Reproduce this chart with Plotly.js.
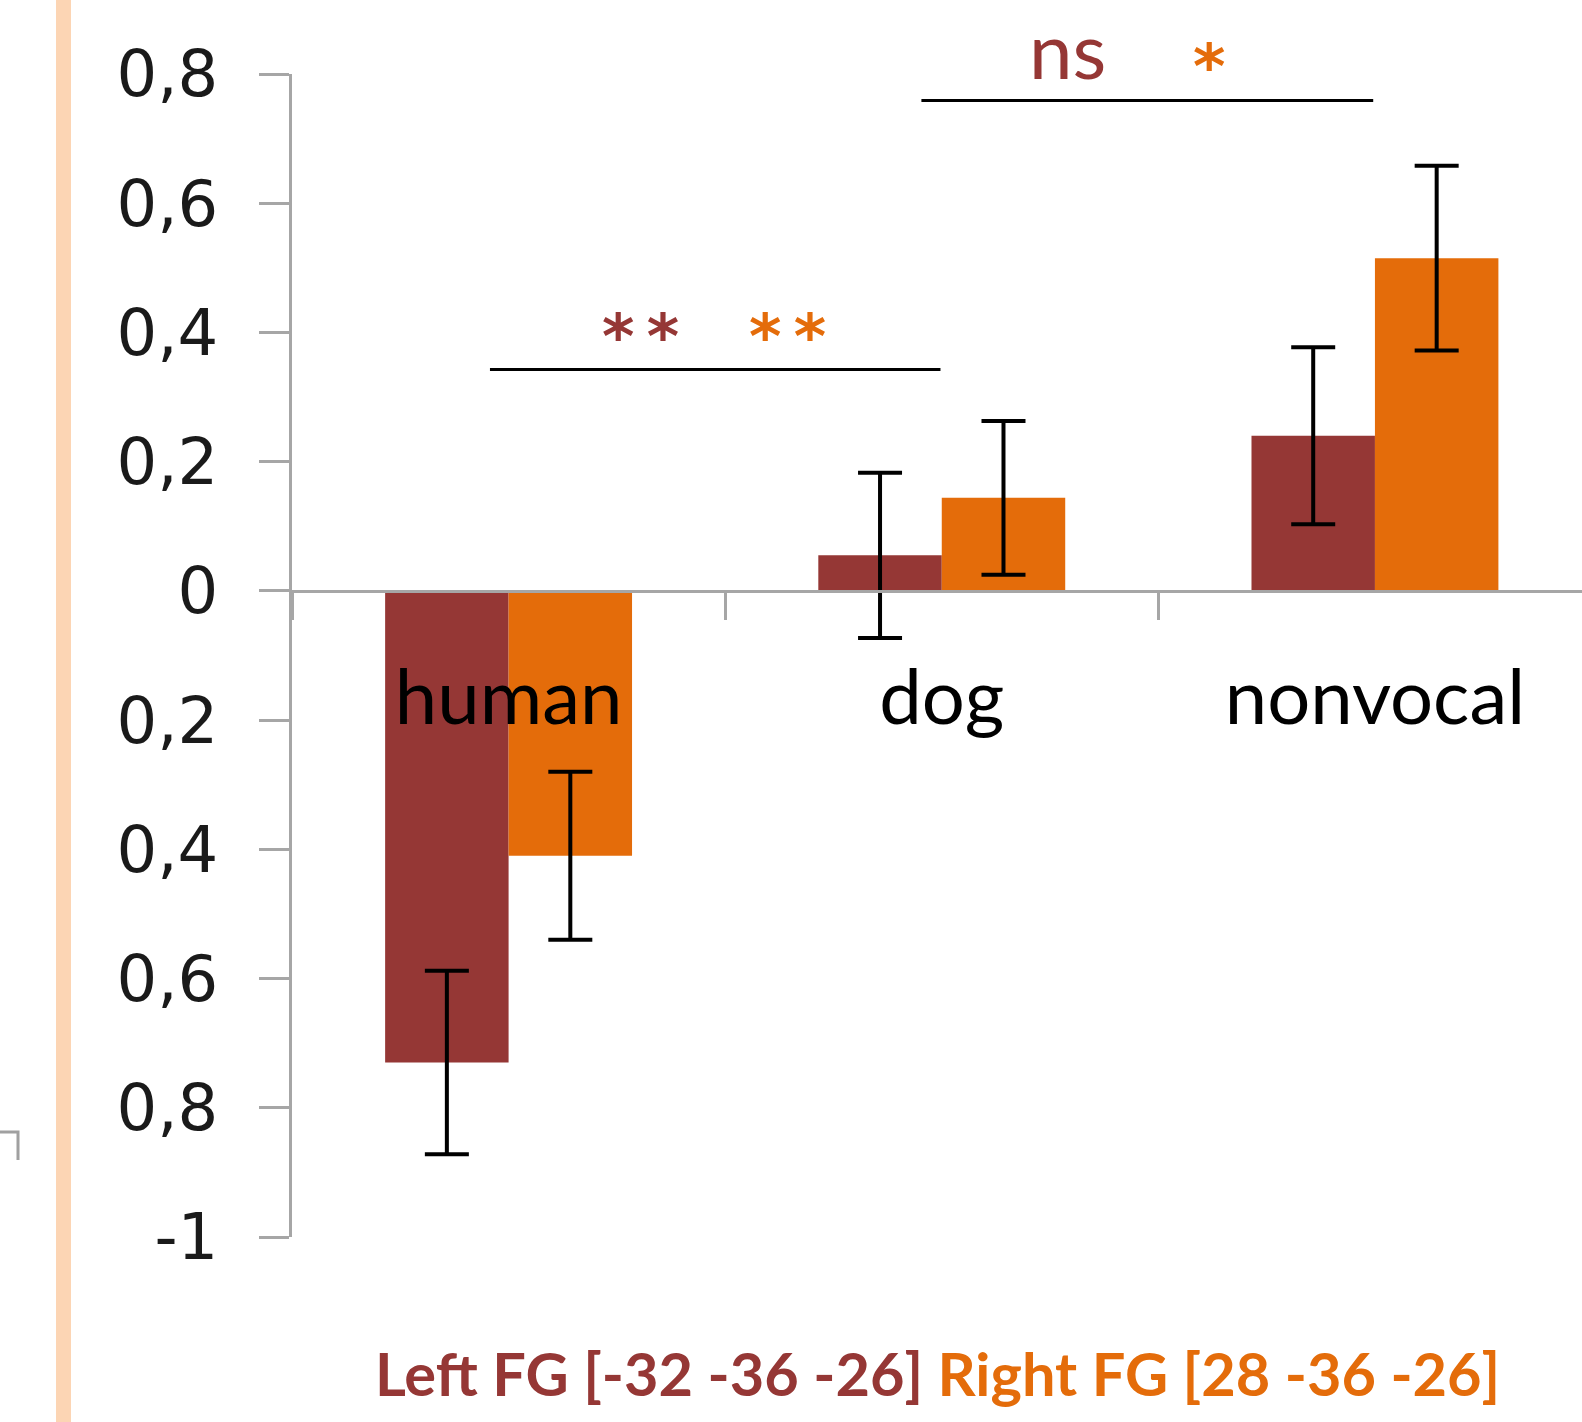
<!DOCTYPE html>
<html>
<head>
<meta charset="utf-8">
<script src="https://cdn.plot.ly/plotly-3.0.1.min.js"></script>
<style>
html,body{margin:0;padding:0;background:#fff;}
#chart{width:1582px;height:1422px;}
</style>
</head>
<body>
<div id="chart"></div>
<script>
// ---- data ----
const categories = ["human", "dog", "nonvocal"];
const leftFG  = [-0.730, 0.055, 0.240];
const leftErr = [0.142, 0.128, 0.137];
const rightFG  = [-0.410, 0.144, 0.515];
const rightErr = [0.130, 0.119, 0.143];
const seriesNames = ["Left FG [-32 -36 -26]", "Right FG [28 -36 -26]"];
const yTickVals = [-1, -0.8, -0.6, -0.4, -0.2, 0, 0.2, 0.4, 0.6, 0.8];
const yTickText = ["-1", "0,8", "0,6", "0,4", "0,2", "0", "0,2", "0,4", "0,6", "0,8"];
// significance brackets: [x0, x1, y]
const sigLines = [[-0.043, 0.997, 0.3425], [0.953, 1.996, 0.759]];
const sigLabels = [
  {text: "**", x: 0.305, y: 0.3425, color: "red"},
  {text: "**", x: 0.645, y: 0.3425, color: "orange"},
  {text: "ns", x: 1.291, y: 0.759, color: "red"},
  {text: "*", x: 1.617, y: 0.759, color: "orange"}
];

const RED = "#953735", ORANGE = "#E46C0A", AXIS = "#A6A6A6";
const W = 1582, H = 1422, ML = 292, MR = 0, MT = 74, MB = 185;
const PW = W - ML - MR, PH = H - MT - MB;
const px = x => (x - ML) / PW;
const py = y => (H - MB - y) / PH;

const traces = [
  {type: "bar", name: seriesNames[0], x: categories, y: leftFG,
   marker: {color: RED}, error_y: {type: "data", array: leftErr, visible: true, color: "#000", thickness: 4, width: 22}},
  {type: "bar", name: seriesNames[1], x: categories, y: rightFG,
   marker: {color: ORANGE}, error_y: {type: "data", array: rightErr, visible: true, color: "#000", thickness: 4, width: 22}}
];

const shapes = sigLines.map(s => ({type: "line", xref: "x", yref: "y", x0: s[0], x1: s[1], y0: s[2], y1: s[2], line: {color: "#000", width: 3}}));
// left peach stripe and the small bracket fragment
shapes.push({type: "rect", xref: "paper", yref: "paper", x0: px(56), x1: px(71), y0: py(H), y1: py(0), fillcolor: "#FCD5B4", line: {width: 0}, layer: "below"});
shapes.push({type: "path", xref: "paper", yref: "paper", path: `M ${px(0)} ${py(1132)} L ${px(18)} ${py(1132)} L ${px(18)} ${py(1160)}`, line: {color: "#A0A0A0", width: 3}});

const annotations = sigLabels.map(a => {
  const star = a.text !== "ns";
  return {
    text: star ? "<b>" + a.text.split("").join("\u2009") + "</b>" : a.text, x: a.x, y: a.y, xref: "x", yref: "y", showarrow: false,
    yanchor: "bottom", yshift: star ? -5 : 2,
    font: {family: star ? "'DejaVu Sans', sans-serif" : "Lato, 'Open Sans', sans-serif", size: star ? 62 : 78, color: a.color === "red" ? RED : ORANGE}
  };
});
annotations.push({
  xref: "paper", yref: "paper", x: px(937), y: py(1373), showarrow: false, xanchor: "center", yanchor: "middle",
  text: `<b><span style="color:${RED}">${seriesNames[0]}</span> <span style="color:${ORANGE}">${seriesNames[1]}</span></b>`,
  font: {family: "Lato, 'Open Sans', sans-serif", size: 59.5, color: RED}
});

const layout = {
  width: W, height: H,
  margin: {l: ML, r: MR, t: MT, b: MB, pad: 0},
  paper_bgcolor: "#fff", plot_bgcolor: "#fff",
  showlegend: false,
  barmode: "group", bargap: 0.43, bargroupgap: 0,
  xaxis: {
    type: "category", range: [-0.5, 2.478], anchor: "free", position: 1 / 1.8,
    showline: true, linecolor: AXIS, linewidth: 3,
    ticks: "outside", tickson: "boundaries", ticklen: 27, tickwidth: 3, tickcolor: AXIS,
    showgrid: false, zeroline: false, ticklabelstandoff: 40,
    tickfont: {family: "Lato, 'Open Sans', sans-serif", size: 76, color: "#000"}
  },
  yaxis: {
    range: [-1, 0.8], tickvals: yTickVals, ticktext: yTickText,
    showline: true, linecolor: AXIS, linewidth: 3,
    ticks: "outside", ticklen: 30, tickwidth: 3, tickcolor: AXIS,
    showgrid: false, zeroline: false, ticklabelstandoff: 28,
    tickfont: {family: "'DejaVu Sans', Verdana, sans-serif", size: 64, color: "#1a1a1a"}
  },
  shapes: shapes,
  annotations: annotations
};

Plotly.newPlot("chart", traces, layout, {displayModeBar: false, staticPlot: true});
</script>
</body>
</html>
